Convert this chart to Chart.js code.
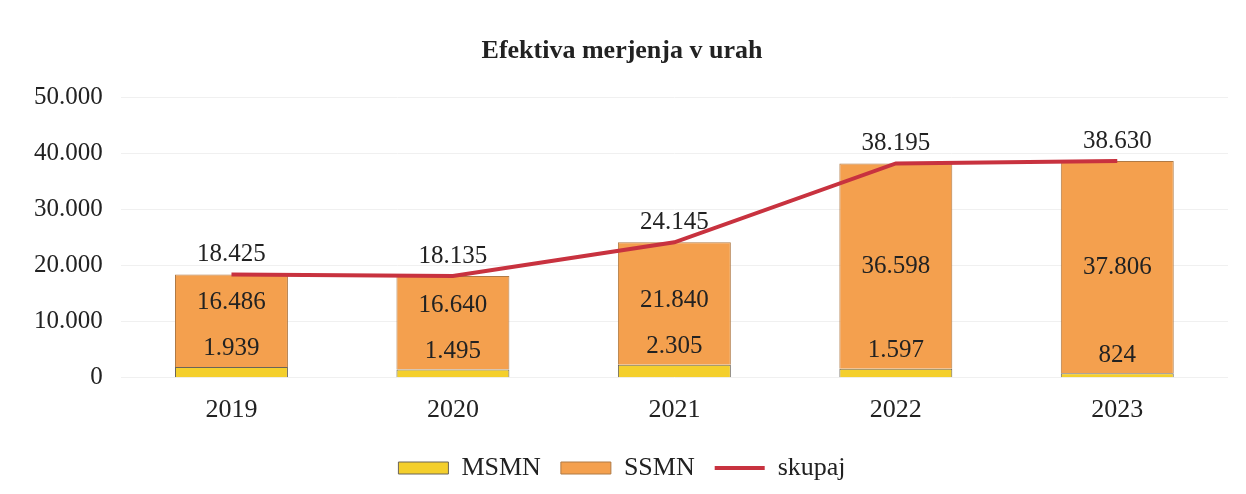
<!DOCTYPE html>
<html>
<head>
<meta charset="utf-8">
<script src="https://cdn.jsdelivr.net/npm/chart.js@4"></script>
<style>
  html, body { margin: 0; padding: 0; background: #fff; }
  #wrap { width: 1246px; height: 494px; position: relative; }
</style>
</head>
<body>
<div id="wrap"><canvas id="chart"></canvas></div>
<script>
const years = ["2019", "2020", "2021", "2022", "2023"];
const msmn = [1939, 1495, 2305, 1597, 824];
const ssmn = [16486, 16640, 21840, 36598, 37806];
const skupaj = [18425, 18135, 24145, 38195, 38630];
const yTicks = [0, 10000, 20000, 30000, 40000, 50000];

const serif = "'Liberation Serif', 'Times New Roman', serif";
const textColor = "#222";

function fmt(v) {
  return v.toLocaleString("de-DE");
}

// value labels drawn from the element positions
const valueLabels = {
  id: "valueLabels",
  afterDatasetsDraw(chart) {
    const ctx = chart.ctx;
    ctx.save();
    ctx.font = `25px ${serif}`;
    ctx.fillStyle = textColor;
    ctx.textAlign = "center";
    ctx.textBaseline = "middle";
    const mMeta = chart.getDatasetMeta(0);
    const sMeta = chart.getDatasetMeta(1);
    const lMeta = chart.getDatasetMeta(2);
    mMeta.data.forEach((el, i) => {
      const my = el.y - 18;
      ctx.fillText(fmt(msmn[i]), el.x, my);
      const s = sMeta.data[i];
      const cy = Math.min((s.y + s.base) / 2, my - 46);
      ctx.fillText(fmt(ssmn[i]), s.x, cy);
      const p = lMeta.data[i];
      ctx.fillText(fmt(skupaj[i]), p.x, p.y - 20);
    });
    ctx.restore();
  }
};

const chart = new Chart(document.getElementById("chart"), {
  data: {
    labels: years,
    datasets: [
      {
        type: "bar",
        label: "MSMN",
        data: msmn,
        backgroundColor: "#F4CF2C",
        borderColor: "#6b6459",
        borderWidth: 1,
        stack: "s",
        order: 1,
        pointStyle: "rect",
        categoryPercentage: 1,
        barPercentage: 0.51,
      },
      {
        type: "bar",
        label: "SSMN",
        data: ssmn,
        backgroundColor: "#F4A04E",
        borderColor: "#b07a45",
        borderWidth: 1,
        stack: "s",
        order: 1,
        pointStyle: "rect",
        categoryPercentage: 1,
        barPercentage: 0.51,
      },
      {
        type: "line",
        label: "skupaj",
        data: skupaj,
        borderColor: "#C8323F",
        backgroundColor: "#C8323F",
        borderWidth: 4,
        pointRadius: 0,
        tension: 0,
        order: 0,
        pointStyle: "line",
      },
    ],
  },
  options: {
    responsive: true,
    maintainAspectRatio: false,
    animation: false,
    layout: { padding: { left: 16, right: 18, top: 0, bottom: 3 } },
    plugins: {
      title: {
        display: true,
        text: "Efektiva merjenja v urah",
        color: textColor,
        font: { family: serif, size: 26, weight: "bold" },
        padding: { top: 36, bottom: 30 },
      },
      legend: {
        position: "bottom",
        labels: {
          usePointStyle: true,
          pointStyleWidth: 50,
          boxHeight: 12,
          color: textColor,
          font: { family: serif, size: 26 },
          padding: 20,
          sort: (a, b) => a.datasetIndex - b.datasetIndex,
        },
      },
      tooltip: { enabled: false },
    },
    scales: {
      x: {
        stacked: true,
        grid: { display: false },
        border: { display: false },
        ticks: { color: textColor, font: { family: serif, size: 26 }, padding: 9 },
      },
      y: {
        stacked: true,
        min: 0,
        max: 50000,
        afterBuildTicks: (axis) => { axis.ticks = yTicks.map((v) => ({ value: v })); },
        grid: { color: "#f0f0f0", drawTicks: false },
        border: { display: false },
        ticks: {
          color: textColor,
          font: { family: serif, size: 25 },
          padding: 18,
          callback: (v) => fmt(v),
        },
      },
    },
  },
  plugins: [valueLabels],
});
</script>
</body>
</html>
